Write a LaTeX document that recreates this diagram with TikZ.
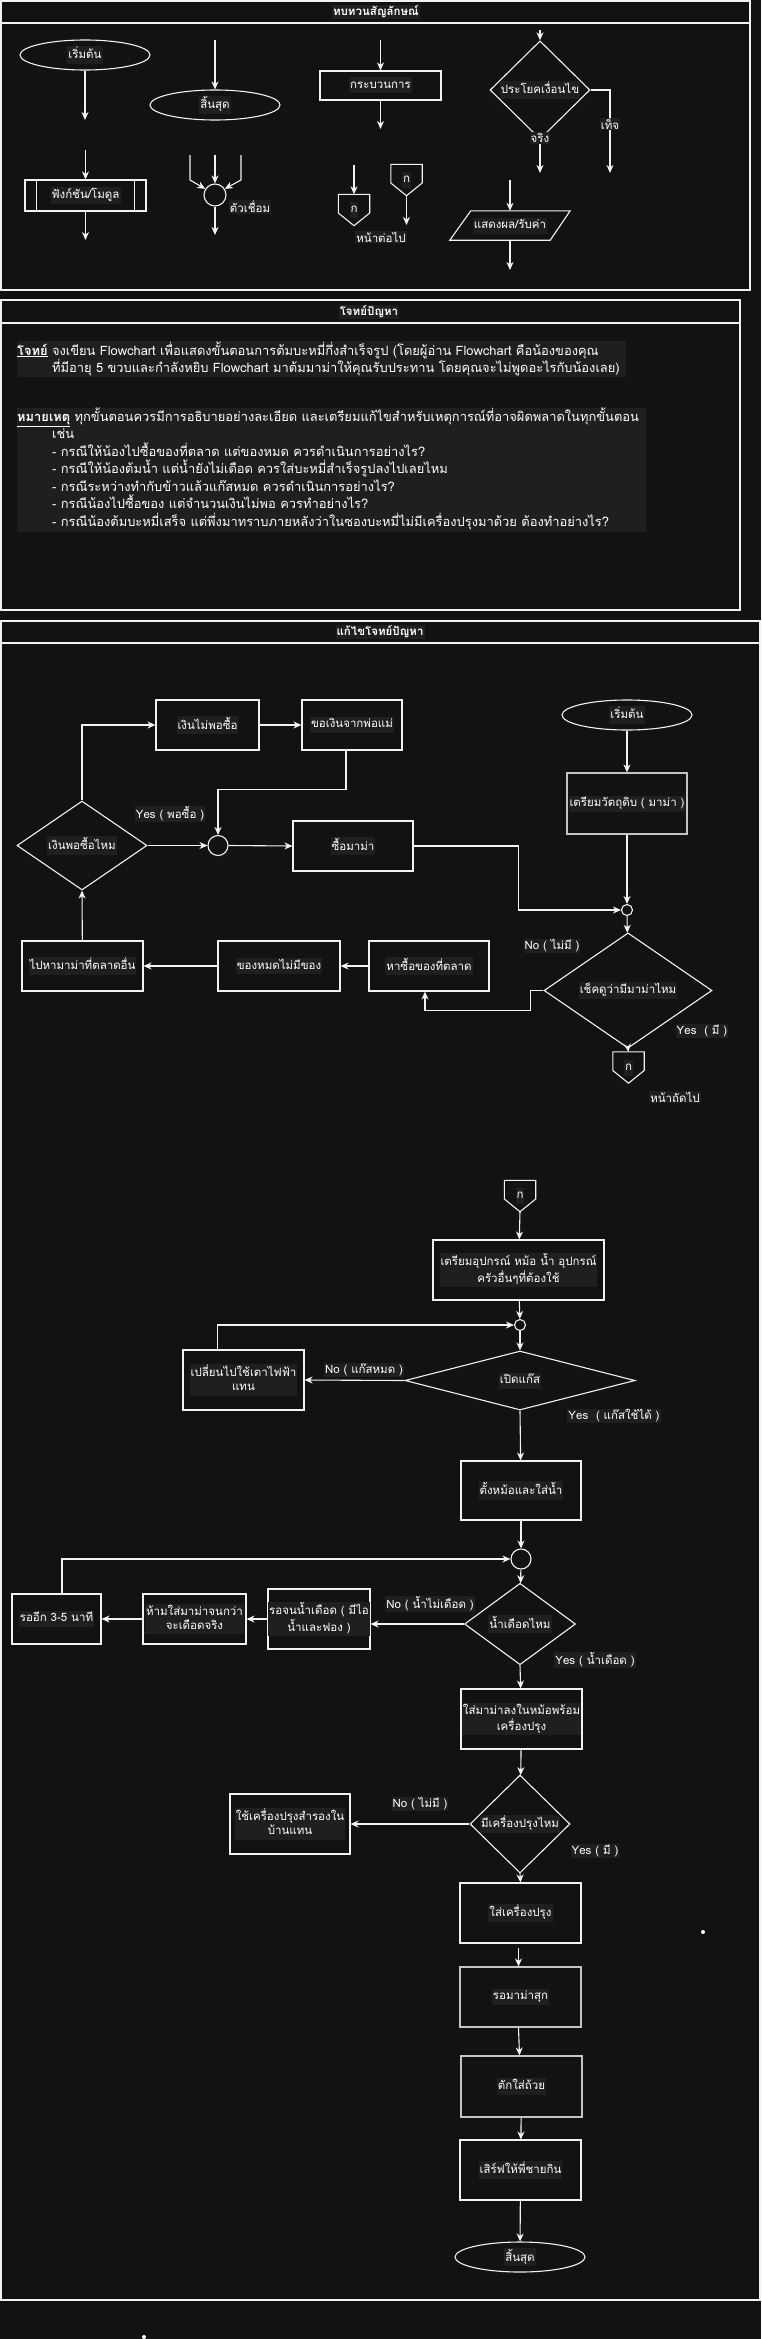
\documentclass[tikz,border=0pt]{standalone}
\usepackage{fontspec}
\newfontfamily\thai[Script=Thai]{Loma}
\usetikzlibrary{arrows.meta,shapes.geometric,calc}
\definecolor{bg}{HTML}{121212}
\definecolor{tbg}{HTML}{1F1F1F}
\definecolor{ln}{HTML}{F2F2F2}
\definecolor{gln}{HTML}{C4C4C4}
\setlength{\fboxsep}{1pt}
\newcommand\hl[1]{\colorbox{tbg}{\begin{tabular}{@{}c@{}}#1\end{tabular}}}
\tikzset{
  txt/.style={font=\thai\fontsize{11.5}{14}\selectfont, text=white, inner sep=0pt},
  lbl/.style={txt, fill=tbg, inner sep=1pt},
  ptext/.style={font=\thai\fontsize{12.9}{15}\selectfont, text=white, inner sep=0pt, anchor=west, text height=9pt, text depth=3pt},
  ttl/.style={font=\thai\bfseries\fontsize{11.5}{14}\selectfont, text=white, fill=tbg, inner sep=1pt},
  box/.style 2 args={txt, rectangle, draw=ln, line width=1.1pt, minimum width=#1pt, minimum height=#2pt},
  gbox/.style 2 args={box={#1}{#2}, draw=gln},
  oval/.style={txt, ellipse, draw=ln, line width=1.1pt, minimum width=130pt, minimum height=30pt},
  dia/.style 2 args={txt, diamond, draw=ln, line width=1.1pt, minimum width=#1pt, minimum height=#2pt},
  circ/.style={circle, draw=ln, line width=1.1pt, minimum size=#1pt, inner sep=0pt},
  pent/.style={txt, minimum width=31pt, minimum height=31pt},
  arr/.style={draw=ln, line width=1.1pt, -{Stealth[length=8pt,width=7pt,inset=2.5pt]}},
  ln/.style={draw=ln, line width=1.1pt},
  frame/.style={draw=ln, line width=1.3pt},
}
\newcommand\pentdraw[1]{\draw[ln] (#1.north west) -- (#1.north east) -- ([yshift=-3pt]#1.east) -- (#1.south) -- ([yshift=-3pt]#1.west) -- cycle;}
\begin{document}
\begin{tikzpicture}[x=1pt,y=-1pt]
\useasboundingbox (0,0) rectangle (761,2339);
\fill[bg] (0,0) rectangle (761,2339);

% ===== Legend =====
\draw[frame] (1,1) rectangle (750,290);
\draw[frame] (1,23) -- (750,23);
\node[ttl] (t1) at (376,12) {ทบทวนสัญลักษณ์};

\node[oval] (lst) at (85,55) {\hl{เริ่มต้น}};
\coordinate (lsta) at (85,120);
\draw[arr] (lst) -- (lsta);

\node[oval] (lend) at (215,105) {\hl{สิ้นสุด}};
\coordinate (lenda) at (215,40);
\draw[arr] (lenda) -- (lend);

\node[box={121}{29}] (lpr) at (380.5,85.5) {\hl{กระบวนการ}};
\coordinate (lpra) at (380.5,40);
\coordinate (lprb) at (380.5,129);
\draw[arr] (lpra) -- (lpr);
\draw[arr] (lpr) -- (lprb);

\node[dia={100}{59}] (ldc) at (540,90) {\hl{ประโยคเงื่อนไข}};
\coordinate (ldca) at (540,30);
\coordinate (ldcb) at (540,173);
\coordinate (ldcc) at (610,173);
\draw[arr] (ldca) -- (ldc);
\draw[arr] (ldc.south) -- (ldcb);
\draw[arr] (ldc.east) -| (ldcc);
\node[lbl] (ltrue) at (540,138) {จริง};
\node[lbl] (lfalse) at (610,124) {เท็จ};

\node[box={121}{31}] (lfn) at (85.5,195.5) {\hl{ฟังก์ชัน/โมดูล}};
\draw[ln] ([xshift=12pt]lfn.north west) -- ([xshift=12pt]lfn.south west);
\draw[ln] ([xshift=-12pt]lfn.north east) -- ([xshift=-12pt]lfn.south east);
\coordinate (lfna) at (85.5,150);
\coordinate (lfnb) at (85.5,240);
\draw[arr] (lfna) -- (lfn);
\draw[arr] (lfn) -- (lfnb);

\node[circ=22] (lcc) at (215,195) {};
\coordinate (lcca) at (215,155);
\coordinate (lccb) at (190,155);
\coordinate (lccc) at (241,155);
\coordinate (lccd) at (215,235);
\draw[arr] (lcca) -- (lcc);
\draw[arr] (lccb) -- ++(0,25) -- (lcc.148);
\draw[arr] (lccc) -- ++(0,25) -- (lcc.32);
\draw[arr] (lcc) -- (lccd);
\node[lbl] (lccl) at (250,207) {ตัวเชื่อม};

\node[pent] (lpa) at (354,210) {\hl{ก}};
\pentdraw{lpa}
\coordinate (lpaa) at (354,165);
\draw[arr] (lpaa) -- (lpa.north);
\node[pent] (lpb) at (406.5,180) {\hl{ก}};
\pentdraw{lpb}
\coordinate (lpbb) at (406.5,225);
\draw[arr] (lpb.south) -- (lpbb);
\node[lbl] (lpl) at (381,237) {หน้าต่อไป};

\node[txt, minimum width=100pt, minimum height=29pt] (lio) at (510,225.5) {\hl{แสดงผล/รับค่า}};
\draw[ln] ([xshift=11pt]lio.north west) -- ([xshift=10pt]lio.north east) -- ([xshift=-10pt]lio.south east) -- ([xshift=-10pt]lio.south west) -- cycle;
\coordinate (lioa) at (510,180);
\coordinate (liob) at (510,270);
\draw[arr] (lioa) -- (lio);
\draw[arr] (lio) -- (liob);

% ===== Problem =====
\draw[frame] (1,300) rectangle (740,610);
\draw[frame] (1,323) -- (740,323);
\node[ttl] (t2) at (369,312) {โจทย์ปัญหา};
\fill[tbg] (17,341) rectangle (626,377);
\fill[tbg] (17,408) rectangle (646,532);
\node[ptext] (p1) at (17,352) {\textbf{\underline{โจทย์}} จงเขียน Flowchart เพื่อแสดงขั้นตอนการต้มบะหมี่กึ่งสำเร็จรูป (โดยผู้อ่าน Flowchart คือน้องของคุณ};
\node[ptext] (p2) at (52,369.5) {ที่มีอายุ 5 ขวบและกำลังหยิบ Flowchart มาต้มมาม่าให้คุณรับประทาน โดยคุณจะไม่พูดอะไรกับน้องเลย)};
\node[ptext] (p3) at (17,418) {\textbf{\underline{หมายเหตุ}} ทุกขั้นตอนควรมีการอธิบายอย่างละเอียด และเตรียมแก้ไขสำหรับเหตุการณ์ที่อาจผิดพลาดในทุกขั้นตอน};
\node[ptext] (p4) at (52,435.5) {เช่น};
\node[ptext] (p5) at (52,453) {- กรณีให้น้องไปซื้อของที่ตลาด แต่ของหมด ควรดำเนินการอย่างไร?};
\node[ptext] (p6) at (52,470.5) {- กรณีให้น้องต้มน้ำ แต่น้ำยังไม่เดือด ควรใส่บะหมี่สำเร็จรูปลงไปเลยไหม};
\node[ptext] (p7) at (52,488) {- กรณีระหว่างทำกับข้าวแล้วแก๊สหมด ควรดำเนินการอย่างไร?};
\node[ptext] (p8) at (52,505.5) {- กรณีน้องไปซื้อของ แต่จำนวนเงินไม่พอ ควรทำอย่างไร?};
\node[ptext] (p9) at (52,523) {- กรณีน้องต้มบะหมี่เสร็จ แต่พึ่งมาทราบภายหลังว่าในซองบะหมี่ไม่มีเครื่องปรุงมาด้วย ต้องทำอย่างไร?};

% ===== Solution =====
\draw[frame] (1,621) rectangle (760,2300);
\draw[frame] (1,643) -- (760,643);
\node[ttl] (t3) at (380,632) {แก้ไขโจทย์ปัญหา};

\node[box={103}{50}] (n1) at (207.5,725) {\hl{เงินไม่พอซื้อ}};
\node[box={100}{50}] (n2) at (352,725) {\hl{ขอเงินจากพ่อแม่}};
\node[oval] (st) at (627,715) {\hl{เริ่มต้น}};
\node[gbox={120}{61}] (prep) at (627,803.5) {\hl{เตรียมวัตถุดิบ ( มาม่า )}};
\node[circ=11] (c1) at (627,910) {};
\node[dia={130}{89}] (d1) at (82,845.5) {\hl{เงินพอซื้อไหม}};
\node[circ=20] (cc1) at (218,845.5) {};
\node[box={120}{50}] (buy) at (353,846) {\hl{ซื้อมาม่า}};
\node[dia={168}{79}] (d2) at (628,990.5) {\hl{เช็คดูว่ามีมาม่าไหม}};
\node[pent] (pg1) at (628.5,1067.5) {\hl{ก}};
\pentdraw{pg1}
\node[box={120}{50}] (mkt) at (429,966) {\hl{หาซื้อของที่ตลาด}};
\node[box={122}{50}] (out) at (279,966) {\hl{ของหมดไม่มีของ}};
\node[box={121}{50}] (oth) at (82.5,966) {\hl{ไปหามาม่าที่ตลาดอื่น}};

\draw[arr] (d1.north) |- (n1.west);
\draw[arr] (n1) -- (n2);
\draw[arr] ([xshift=-6pt]n2.south) -- ++(0,39) -| (cc1.north);
\draw[arr] (d1.east) -- (cc1.west);
\node[lbl] (y1) at (170,814) {Yes ( พอซื้อ )};
\draw[arr] (cc1.east) -- (buy.west);
\draw[arr] (buy.east) -- ++(105,0) |- (c1.west);
\draw[arr] (st) -- (prep);
\draw[arr] (prep) -- (c1);
\draw[arr] (c1) -- (d2);
\draw[arr] (d2.west) -- ++(-13,0) -- ++(0,20) -| ([xshift=-4pt]mkt.south);
\node[lbl] (no1) at (552,946) {No ( ไม่มี )};
\draw[arr] (d2.south) -- (pg1.north);
\node[lbl] (ye2) at (702,1031) {Yes~ ( มี )};
\node[lbl] (nx1) at (675,1097) {หน้าถัดไป};
\draw[arr] (mkt) -- (out);
\draw[arr] (out) -- (oth);
\draw[arr] (oth) -- (d1.south);

\node[pent] (pg2) at (520,1196) {\hl{ก}};
\pentdraw{pg2}
\node[box={171}{60}] (prep2) at (518.5,1270) {\hl{เตรียมอุปกรณ์ หม้อ น้ำ อุปกรณ์\\ครัวอื่นๆที่ต้องใช้}};
\node[circ=11] (c2) at (520,1325) {};
\node[dia={230}{59}] (d3) at (520,1380.5) {\hl{เปิดแก๊ส}};
\node[box={121}{60}] (elec) at (243.5,1380) {\hl{เปลี่ยนไปใช้เตาไฟฟ้า\\แทน}};
\draw[arr] (pg2.south) -- (prep2);
\draw[arr] (prep2) -- (c2);
\draw[arr] (c2) -- (d3);
\draw[arr] (d3.west) -- (elec.east);
\node[lbl] (no2) at (364,1370) {No ( แก๊สหมด )};
\draw[arr] ([xshift=-26pt]elec.north) |- (c2.west);
\node[lbl] (ye3) at (614,1416) {Yes~ ( แก๊สใช้ได้ )};

\node[box={120}{59}] (pot) at (521,1490.5) {\hl{ตั้งหม้อและใส่น้ำ}};
\node[circ=20] (cc2) at (521,1559) {};
\node[dia={111}{70}] (d4) at (520,1624) {\hl{น้ำเดือดไหม}};
\node[box={102}{60}] (w1) at (319,1619) {\hl{รอจนน้ำเดือด ( มีไอ\\น้ำและฟอง )}};
\node[box={103}{50}] (nope) at (194.5,1619) {\hl{ห้ามใส่มาม่าจนกว่า\\จะเดือดจริง}};
\node[box={89}{50}] (w2) at (56.5,1619) {\hl{รออีก 3-5 นาที}};
\draw[arr] (d3.south) -- (pot);
\draw[arr] (pot) -- (cc2);
\draw[arr] (cc2) -- (d4);
\draw[arr] (d4.west) -- (d4.west -| w1.east);
\node[lbl] (no3) at (430,1604) {No ( น้ำไม่เดือด )};
\draw[arr] (w1) -- (nope);
\draw[arr] (nope) -- (w2);
\draw[arr] ([xshift=5.5pt]w2.north) |- (cc2.west);
\node[lbl] (ye4) at (595,1660) {Yes ( น้ำเดือด )};

\node[box={121}{60}] (put) at (521.5,1719) {\hl{ใส่มาม่าลงในหม้อพร้อม\\เครื่องปรุง}};
\node[dia={100}{80}] (d5) at (520,1824) {\hl{มีเครื่องปรุงไหม}};
\node[box={120}{60}] (spare) at (290,1824) {\hl{ใช้เครื่องปรุงสำรองใน\\บ้านแทน}};
\node[box={121}{60}] (seas) at (520.5,1913) {\hl{ใส่เครื่องปรุง}};
\node[gbox={121}{60}] (cook) at (520.5,1997) {\hl{รอมาม่าสุก}};
\node[gbox={121}{61}] (bowl) at (521.5,2086.5) {\hl{ตักใส่ถ้วย}};
\node[box={121}{60}] (serve) at (520.5,2170) {\hl{เสิร์ฟให้พี่ชายกิน}};
\node[oval] (fin) at (520,2257) {\hl{สิ้นสุด}};
\draw[arr] (d4.south) -- (put);
\draw[arr] (put) -- (d5);
\draw[arr] (d5.west) -- (spare.east);
\node[lbl] (no4) at (420,1804) {No ( ไม่มี )};
\draw[arr] (d5.south) -- (seas.north);
\node[lbl] (ye5) at (595,1851) {Yes ( มี )};
\draw[arr] ([yshift=-4pt,xshift=-2pt]seas.south) -- ([xshift=-2pt]cook.north);
\draw[arr] ([xshift=-2pt]cook.south) -- ([xshift=-2pt]bowl.north);
\draw[arr] (bowl) -- (serve);
\draw[arr] (serve) -- (fin);

\fill[white] (703,1932) circle (2);
\fill[white] (144,2337) circle (2);
\end{tikzpicture}
\end{document}
